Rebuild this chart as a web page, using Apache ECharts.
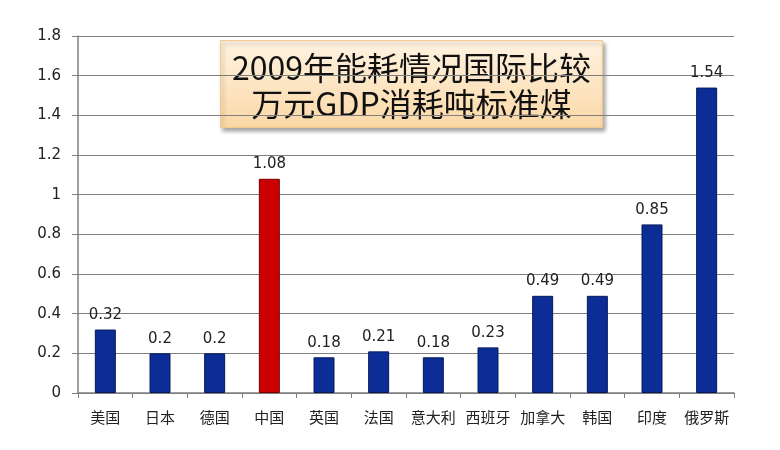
<!DOCTYPE html>
<html>
<head>
<meta charset="utf-8">
<script src="https://cdn.jsdelivr.net/npm/echarts@6/dist/echarts.min.js"></script>
<style>html,body{margin:0;padding:0;background:#fff;}#chart{width:780px;height:450px;}</style>
</head>
<body>
<div id="chart"></div>
<script>
const categories = ['美国','日本','德国','中国','英国','法国','意大利','西班牙','加拿大','韩国','印度','俄罗斯'];
const values = [0.32, 0.2, 0.2, 1.08, 0.18, 0.21, 0.18, 0.23, 0.49, 0.49, 0.85, 1.54];
const highlight = '中国';
const yTicks = [0, 0.2, 0.4, 0.6, 0.8, 1, 1.2, 1.4, 1.6, 1.8];
const titleLines = ['2009年能耗情况国际比较', '万元GDP消耗吨标准煤'];

const chart = echarts.init(document.getElementById('chart'));
const font = '"Noto Sans CJK SC", "Noto Sans", sans-serif';
const numFont = '"DejaVu Sans", sans-serif';
chart.setOption({
  animation: false,
  grid: { left: 78, right: 46, top: 36, bottom: 57 },
  xAxis: {
    type: 'category',
    data: categories,
    axisLine: { lineStyle: { color: '#7f7f7f', width: 1.5 } },
    axisTick: { show: true, interval: 0, length: 5, lineStyle: { color: '#7f7f7f' } },
    axisLabel: { interval: 0, hideOverlap: false, color: '#222', fontSize: 15, fontFamily: font, margin: 17 }
  },
  yAxis: {
    type: 'value',
    min: 0, max: 1.8, interval: 0.2,
    axisLine: { show: true, lineStyle: { color: '#7f7f7f', width: 1.5 } },
    axisTick: { show: true, length: 6, lineStyle: { color: '#7f7f7f' } },
    splitLine: { lineStyle: { color: '#7f7f7f', width: 1 } },
    axisLabel: { color: '#222', fontSize: 15, fontFamily: numFont, margin: 17,
      formatter: v => String(yTicks.find(t => Math.abs(t - v) < 1e-9) ?? v) }
  },
  series: [{
    type: 'bar',
    data: values.map((v, i) => ({
      value: v,
      itemStyle: categories[i] === highlight
        ? { color: '#cc0000', borderColor: '#7a0000', borderWidth: 1 }
        : { color: '#0d2d96', borderColor: '#061a5a', borderWidth: 1 }
    })),
    barWidth: 21,
    label: { show: true, position: 'top', distance: 7, color: '#222', fontSize: 15, fontFamily: numFont }
  }],
  graphic: [{
    type: 'group',
    left: 220, top: 40,
    children: [{
      type: 'rect',
      shape: { x: 0, y: 0, width: 382, height: 87 },
      style: {
        fill: { type: 'linear', x: 0, y: 0, x2: 0, y2: 1, colorStops: [
          { offset: 0, color: '#fff3e2' }, { offset: 1, color: '#fbd8a6' } ] },
        stroke: '#f3c98c', lineWidth: 1,
        shadowBlur: 4, shadowOffsetX: 2, shadowOffsetY: 3, shadowColor: 'rgba(0,0,0,0.35)'
      }
    }, {
      type: 'text',
      style: { text: titleLines[0], x: 191, y: 27, align: 'center', verticalAlign: 'middle',
        font: '32px ' + font, fill: '#111' }
    }, {
      type: 'text',
      style: { text: titleLines[1], x: 191, y: 63, align: 'center', verticalAlign: 'middle',
        font: '32px ' + font, fill: '#111' }
    }]
  }]
});
</script>
</body>
</html>
